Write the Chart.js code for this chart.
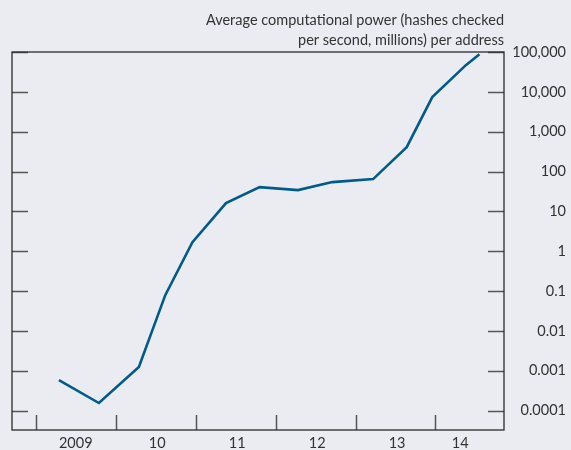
<!DOCTYPE html>
<html>
<head>
<meta charset="utf-8">
<script src="https://cdn.jsdelivr.net/npm/chart.js@4/dist/chart.umd.min.js"></script>
<style>
  html, body { margin: 0; padding: 0; background: #ebecf1; }
  #wrap { width: 571px; height: 450px; }
</style>
</head>
<body>
<div id="wrap"><canvas id="hashChart" width="571" height="450"></canvas></div>
<script>
// dates as decimal years, values in millions of hashes per second per address
const dates = [2009.29, 2009.79, 2010.29, 2010.62, 2010.96, 2011.38, 2011.80,
               2012.28, 2012.71, 2013.22, 2013.64, 2013.96, 2014.38, 2014.55];
const hashPower = [0.00058, 0.000155, 0.00124, 0.079, 1.69, 16.1, 40.6,
                   34.2, 54.3, 64.6, 410, 7360, 46800, 88300];

const yearLabels = ['2009', '10', '11', '12', '13', '14'];
const yearLabelPos = [2009.5, 2010.52, 2011.52, 2012.52, 2013.52, 2014.31];
const yearBounds = [2009, 2010, 2011, 2012, 2013, 2014];

const yTickValues = [0.0001, 0.001, 0.01, 0.1, 1, 10, 100, 1000, 10000, 100000];
const yTickLabels = ['0.0001', '0.001', '0.01', '0.1', '1', '10', '100', '1,000', '10,000', '100,000'];

const titleLines = ['Average computational power (hashes checked', 'per second, millions) per address'];

const FONT = 'Lato, "Noto Sans", sans-serif';
const TEXT = '#333333';

// box, inward tick marks and the heading above the plot
const frame = {
  id: 'frame',
  beforeDatasetsDraw(chart) {
    const { ctx, chartArea: a, scales } = chart;
    ctx.save();
    ctx.strokeStyle = '#555555';
    ctx.lineWidth = 1.5;
    ctx.beginPath();
    yTickValues.forEach(v => {
      const y = Math.round(scales.y.getPixelForValue(v)) + 0.5;
      ctx.moveTo(a.left, y); ctx.lineTo(a.left + 16, y);
      ctx.moveTo(a.right, y); ctx.lineTo(a.right - 16, y);
    });
    yearBounds.forEach(t => {
      const x = Math.round(scales.x.getPixelForValue(t)) + 0.5;
      ctx.moveTo(x, a.bottom); ctx.lineTo(x, a.bottom - 15);
    });
    ctx.stroke();
    ctx.strokeStyle = '#2b2b2b';
    ctx.lineWidth = 1.3;
    ctx.strokeRect(a.left, a.top, a.right - a.left, a.bottom - a.top);
    ctx.fillStyle = TEXT;
    ctx.font = '14.5px ' + FONT;
    ctx.textAlign = 'right';
    ctx.textBaseline = 'middle';
    ctx.fillText(titleLines[0], a.right, 20.5);
    ctx.fillText(titleLines[1], a.right, 40.5);
    ctx.restore();
  }
};

new Chart(document.getElementById('hashChart').getContext('2d'), {
  type: 'line',
  data: {
    datasets: [{
      data: dates.map((d, i) => ({ x: d, y: hashPower[i] })),
      borderColor: '#005a8c',
      borderWidth: 2.6,
      pointRadius: 0,
      tension: 0,
      fill: false
    }]
  },
  options: {
    responsive: false,
    animation: false,
    layout: { padding: { top: 52, left: 12, right: 5, bottom: 0 } },
    plugins: {
      legend: { display: false },
      tooltip: { enabled: false }
    },
    scales: {
      x: {
        type: 'linear',
        min: 2008.703,
        max: 2014.857,
        grid: { display: false, drawTicks: false },
        border: { display: false },
        afterBuildTicks: s => { s.ticks = yearLabelPos.map(v => ({ value: v })); },
        afterFit: s => { s.height = 20; },
        ticks: {
          autoSkip: false,
          maxRotation: 0,
          padding: 5,
          color: TEXT,
          font: { family: FONT, size: 14.5 },
          callback: (v, i) => yearLabels[i]
        }
      },
      y: {
        type: 'logarithmic',
        position: 'right',
        min: 3.26e-5,
        max: 100000,
        grid: { display: false, drawTicks: false },
        border: { display: false },
        afterBuildTicks: s => { s.ticks = yTickValues.map(v => ({ value: v })); },
        afterFit: s => { s.width = 62; },
        ticks: {
          autoSkip: false,
          crossAlign: 'far',
          padding: 3,
          color: TEXT,
          font: { family: FONT, size: 14.5 },
          callback: (v, i) => yTickLabels[i]
        }
      }
    }
  },
  plugins: [frame]
});
</script>
</body>
</html>
